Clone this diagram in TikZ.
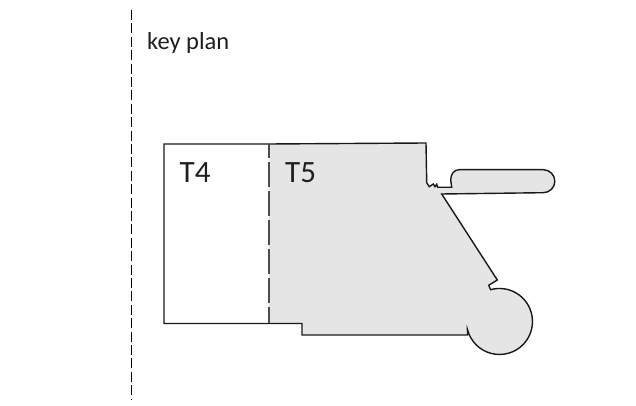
\documentclass[tikz,border=0pt]{standalone}
\usepackage{fontspec}
\setmainfont{Carlito}
\definecolor{planfill}{HTML}{E5E5E5}
\tikzset{
  plan/.style={line width=1.4pt,line join=miter,draw=black!90},
  label/.style={inner sep=0pt,anchor=base west,text=black!88},
}
\begin{document}
\begin{tikzpicture}[x=1pt,y=1pt]
\useasboundingbox (0,0) rectangle (636,406);
\fill[white] (0,0) rectangle (636,406);
\def\outline{(164,262) -- (269,262) -- (426,263) -- (426.7,223.3) -- (429.3,219.3) -- (433.3,222) -- (435,219.3) -- (436.7,221.7) -- (437.7,218.7) -- (451.7,218.7) -- (450.7,226) .. controls (450.7,232) and (454,236.3) .. (459.3,236.3) -- (543.3,236.3) arc (90:-90:11.5) -- (441.7,212) -- (497.3,126) -- (488.7,120.7) -- (490.6,116.3) arc (105.6:-166.2:33) -- (467.5,71) -- (302,71) -- (302,82.5) -- (164,82.5) -- cycle}
\fill[planfill] \outline;
\fill[white] (164,82.5) rectangle (269,262);
\draw[plan] \outline;
\draw[line width=1.5pt,draw=black!70,dash pattern=on 25.5pt off 3.5pt,dash phase=11pt] (269,262) -- (269,82.5);
\draw[line width=1pt,black,dash pattern=on 10pt off 3.4pt] (131.5,396) -- (131.5,7);
\node[label,font=\fontsize{24.5}{26}\selectfont] (keyplan) at (147,356) {key plan};
\node[label,font=\fontsize{31}{33}\selectfont] (t4) at (179.5,223) {T4};
\node[label,font=\fontsize{31}{33}\selectfont] (t5) at (285,223) {T5};
\end{tikzpicture}
\end{document}
